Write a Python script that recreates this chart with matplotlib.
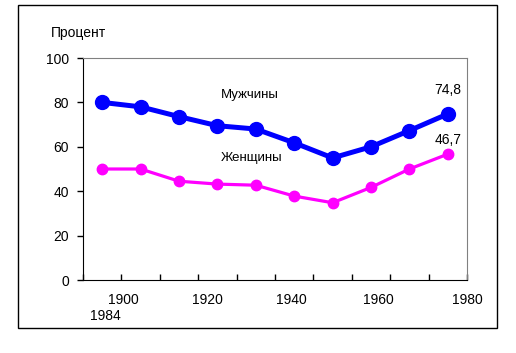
import numpy as np
import matplotlib
matplotlib.use('Agg')
import matplotlib.pyplot as plt
from matplotlib.patches import Rectangle

plt.rcParams['font.family'] = ['Liberation Sans', 'DejaVu Sans']

# ten survey points, drawn as categories
men = [80, 78, 73.6, 69.5, 68, 61.8, 55, 60, 67.3, 74.8]
women = [50, 50, 44.5, 43.2, 42.7, 37.8, 34.8, 41.7, 50, 56.7]
year_labels = ['1900', '1920', '1940', '1960', '1980']
extra_label = '1984'
men_last = '74,8'
women_last = '46,7'

fig = plt.figure(figsize=(5.16, 3.53), dpi=100)
ax = fig.add_axes([83/516, 1 - 280/353, (467-83)/516, (280-58)/353])

x = np.arange(len(men)) + 0.5
ax.plot(x, men, color='#0000FF', lw=3.6, marker='o', ms=10, solid_joinstyle='round')
ax.plot(x, women, color='#FF00FF', lw=2.3, marker='o', ms=7.5, solid_joinstyle='round')

ax.set_xlim(0, len(men))
ax.set_ylim(0, 100)
ax.set_yticks(np.arange(0, 101, 20))
ax.set_xticks(np.arange(0, len(men) + 1))
ax.set_xticklabels([])
ax.tick_params(axis='x', direction='in', length=4, width=1)
ax.tick_params(axis='y', direction='out', length=4, width=1, labelsize=10, pad=6)

for s in ['top', 'right']:
    ax.spines[s].set_color('#808080')
for s in ['left', 'bottom']:
    ax.spines[s].set_color('black')

# year labels are placed by hand under the axis like in the original
label_pos = [1.04, 3.23, 5.42, 7.7, 10.0]
for lab, px in zip(year_labels, label_pos):
    ax.text(px, -6, lab, ha='center', va='top', fontsize=10)
ax.text(0.57, -13, extra_label, ha='center', va='top', fontsize=10)

ax.text(x[-1], 82.5, men_last, ha='center', va='bottom', fontsize=10)
ax.text(x[-1], 60, women_last, ha='center', va='bottom', fontsize=10)
ax.text(4.34, 83.3, 'Мужчины', ha='center', va='center', fontsize=9.5)
ax.text(4.38, 54.8, 'Женщины', ha='center', va='center', fontsize=9.5)

fig.text(51/516, 1 - 33/353, 'Процент', ha='left', va='center', fontsize=10)

fig.patches.append(Rectangle((18/516, 1 - 328/353), (497-18)/516, (328-5)/353,
                             transform=fig.transFigure, fill=False,
                             edgecolor='black', lw=1))

fig.savefig('out.png', dpi=100)
